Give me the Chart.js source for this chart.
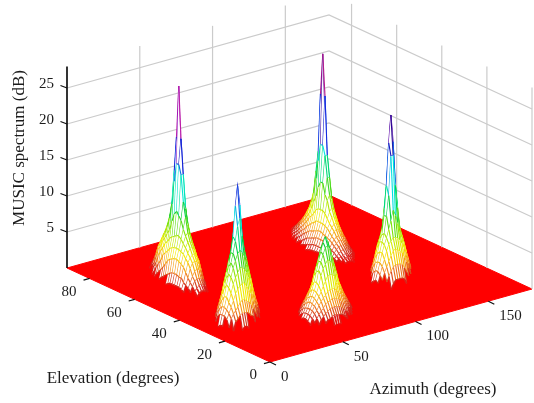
<!DOCTYPE html>
<html>
<head>
<meta charset="utf-8">
<title>MUSIC spectrum</title>
<script src="https://cdn.jsdelivr.net/npm/chart.js@4"></script>
<style>
  html, body { margin: 0; padding: 0; background: #fff; }
  canvas { display: block; }
</style>
</head>
<body>
<canvas id="chart" width="534" height="403"></canvas>
<script>
// Tick labels
const azimuthTicks = [0, 50, 100, 150];
const elevationTicks = [0, 20, 40, 60, 80];
const dbTicks = [5, 10, 15, 20, 25];

// Where the five peaks sit
const peakAz = [36.5, 25, 130, 128, 67.5];
const peakEl = [64, 30.5, 60.5, 29, 19];

// Foot of each peak as it looks on the floor: long and short half width in px, tilt in degrees
const footLong = [32, 23, 36, 22, 28];
const footShort = [11, 11, 13, 10, 12];
const footTilt = [25, -6, 25, -5, -4];

// Height of each peak going out from its centre to its foot, one entry every 2% of the way
const peak1Db = [27, 25.4, 23.8, 21.8, 19.8, 18.5, 17.4, 16.3, 15, 13.7, 12.5, 11.4, 10.4, 9.9, 9.4, 8.9, 8.3, 7.8, 7.4, 7, 6.8, 6.5, 6.3, 6, 5.8, 5.6, 5.4, 5.2, 5, 4.8, 4.5, 4.3, 4.1, 3.9, 3.7, 3.5, 3.2, 2.9, 2.6, 2.3, 2, 1.8, 1.5, 1.3, 1.1, .9, .8, .6, .4, .2, 0];
const peak2Db = [18.6, 18.1, 17.6, 17.2, 16.7, 15.9, 15.1, 14.2, 13.2, 12.4, 11.7, 11.2, 10.7, 10.3, 10, 9.6, 9.3, 9, 8.7, 8.4, 8, 7.8, 7.5, 7.2, 6.9, 6.6, 6.3, 6.1, 5.8, 5.5, 5.2, 4.9, 4.6, 4.3, 4, 3.7, 3.4, 3.2, 2.9, 2.7, 2.5, 2.3, 2.1, 1.9, 1.7, 1.5, 1.35, 1.2, .8, .4, 0];
const peak3Db = [26.7, 25.1, 23.4, 21, 18.5, 15.5, 14.2, 12.9, 11.8, 10.9, 10, 9.2, 8.4, 7.7, 7, 6.6, 6.1, 5.6, 5.3, 5, 4.7, 4.5, 4.2, 4, 3.8, 3.6, 3.4, 3.2, 3, 2.8, 2.7, 2.5, 2.4, 2.2, 2.1, 1.9, 1.8, 1.6, 1.5, 1.3, 1.2, 1.1, .9, .8, .7, .6, .5, .4, .3, .15, 0];
const peak4Db = [22.9, 22.1, 21.4, 20.6, 19.8, 19.1, 18.5, 18, 17.4, 16, 14.5, 13.2, 12, 11.4, 10.8, 10, 9.2, 8.6, 8, 7.5, 7.2, 6.9, 6.6, 6.4, 6.2, 6, 5.8, 5.7, 5.5, 5.2, 5, 4.8, 4.5, 4.2, 4, 3.7, 3.5, 3.2, 3, 2.8, 2.6, 2.3, 2.1, 1.9, 1.7, 1.5, 1.2, 1, .7, .3, 0];
const peak5Db = [10.8, 10.6, 10.4, 10.2, 10.1, 9.9, 9.7, 9.5, 9.2, 8.9, 8.6, 8.3, 8, 7.7, 7.4, 7.1, 6.9, 6.6, 6.3, 6, 5.7, 5.3, 5, 4.7, 4.4, 4.2, 4, 3.8, 3.6, 3.4, 3.3, 3.1, 2.9, 2.8, 2.6, 2.4, 2.3, 2.1, 2, 1.8, 1.7, 1.5, 1.4, 1.2, 1.1, .9, .8, .6, .4, .2, 0];
const peakDb = [peak1Db, peak2Db, peak3Db, peak4Db, peak5Db];

// Box limits and mesh spacing
const azLimit = 180, elLimit = 90, dbLimit = 28;
const azStep = 1.5, elStep = 1;

// Fixed view of the box, orthographic like the original plot
function project(az, el, db) {
    return {
        x: 270 + az * 262 / 180 - el * 203 / 90,
        y: 362 - az * 73 / 180 - el * 94 / 90 - db * 7.2
    };
}

// hsv style colours by height
const colorStops = [
    [0, 240, 10, 10], [1, 205, 45, 35], [2.5, 245, 140, 25], [4.5, 245, 235, 0], [7, 150, 230, 0], [10, 0, 205, 50],
    [13.5, 0, 235, 225], [17, 20, 40, 225], [20, 30, 0, 140], [22.5, 200, 30, 220], [25, 170, 20, 70]
];

function colorFor(db) {
    for (let i = 1; i < colorStops.length; i++) {
        if (db <= colorStops[i][0]) {
            const a = colorStops[i - 1], b = colorStops[i];
            const t = (db - a[0]) / (b[0] - a[0]);
            const mix = k => Math.round(a[k] + (b[k] - a[k]) * t);
            return `rgb(${mix(1)},${mix(2)},${mix(3)})`;
        }
    }
    const last = colorStops[colorStops.length - 1];
    return `rgb(${last[1]},${last[2]},${last[3]})`;
}

function lineSet(points, color, width) {
    return { data: points, borderColor: color, borderWidth: width, showLine: true, fill: false, pointRadius: 0 };
}

const datasets = [];

// Floor
const floor = [project(0, 0, 0), project(azLimit, 0, 0), project(azLimit, elLimit, 0), project(0, elLimit, 0), project(0, 0, 0)];
datasets.push({ data: floor, showLine: true, fill: 'shape', backgroundColor: '#ff0000', borderColor: '#ff0000', borderWidth: 1, pointRadius: 0 });

// Walls
const gridColor = '#cbcbcb';
dbTicks.forEach(db => {
    datasets.push(lineSet([project(0, elLimit, db), project(azLimit, elLimit, db), project(azLimit, 0, db)], gridColor, 1.2));
});
azimuthTicks.slice(1).forEach(az => {
    datasets.push(lineSet([project(az, elLimit, 0), project(az, elLimit, dbLimit)], gridColor, 1.2));
});
elevationTicks.forEach(el => {
    datasets.push(lineSet([project(azLimit, el, 0), project(azLimit, el, dbLimit)], gridColor, 1.2));
});

// Mesh for one peak: strips from the far side to the near side, white faces with coloured lines
function heightAt(p, az, el) {
    const a = project(az, el, 0), c = project(peakAz[p], peakEl[p], 0);
    const t = footTilt[p] * Math.PI / 180;
    const along = (a.x - c.x) * Math.cos(t) + (a.y - c.y) * Math.sin(t);
    const across = (a.y - c.y) * Math.cos(t) - (a.x - c.x) * Math.sin(t);
    const d = Math.hypot(along / footLong[p], across / footShort[p]);
    if (d > 1) return null;
    return peakDb[p][Math.min(Math.round(d * 50), peakDb[p].length - 1)];
}

function addPeak(p) {
    const nAz = Math.ceil(30 / azStep);
    const nEl = Math.ceil(20 / elStep);
    const rows = [];
    for (let j = nEl; j >= -nEl; j--) {
        const row = [];
        for (let i = -nAz; i <= nAz; i++) {
            const az = peakAz[p] + i * azStep, el = peakEl[p] + j * elStep;
            const db = heightAt(p, az, el);
            if (db === null) { row.push(null); continue; }
            const pt = project(az, el, db);
            pt.db = db;
            row.push(pt);
        }
        rows.push(row);
    }
    for (let r = 0; r < rows.length - 1; r++) {
        const back = rows[r], front = rows[r + 1];
        const both = [];
        back.forEach((pt, i) => { if (pt && front[i]) both.push(i); });
        if (both.length === 0) continue;
        // white faces
        const face = both.map(i => back[i]).concat(both.map(i => front[i]).reverse());
        face.push(face[0]);
        datasets.push({ data: face, showLine: true, fill: 'shape', backgroundColor: '#ffffff', borderWidth: 0, pointRadius: 0 });
        // lines across
        const cols = [];
        both.forEach(i => {
            cols.push(back[i], front[i], { x: back[i].x, y: null });
        });
        datasets.push(meshLine(cols));
        datasets.push(meshLine(front.filter(pt => pt)));
    }
}

function meshLine(points) {
    const level = c => (points[c.p0DataIndex].db + points[c.p1DataIndex].db) / 2;
    return {
        data: points, showLine: true, fill: false, pointRadius: 0, borderWidth: 1.1, spanGaps: false,
        borderColor: '#ff0000',
        segment: {
            borderColor: c => colorFor(level(c)),
            // the foot almost closes up into the red floor
            borderWidth: c => (level(c) < 0.8 ? 1.7 : level(c) < 2 ? 1.2 : 1.1)
        }
    };
}

peakAz.map((az, p) => p)
    .sort((a, b) => project(peakAz[a], peakEl[a], 0).y - project(peakAz[b], peakEl[b], 0).y)
    .forEach(addPeak);

// Axis line and tick marks
datasets.push(lineSet([project(0, elLimit, 0), project(0, elLimit, dbLimit)], '#000000', 1.6));
function tickMark(from, dx, dy) {
    return lineSet([from, { x: from.x + dx, y: from.y + dy }], '#111111', 1.2);
}
dbTicks.forEach(db => datasets.push(tickMark(project(0, elLimit, db), -6.5, -2.5)));
elevationTicks.forEach(el => datasets.push(tickMark(project(0, el, 0), -6, 1.7)));
azimuthTicks.forEach(az => datasets.push(tickMark(project(az, 0, 0), 6, 3)));

// Text goes on last, placed from the same scales as the marks
const axisText = {
    id: 'axisText',
    afterDraw(chart) {
        const { ctx, scales } = chart;
        const px = p => ({ x: scales.x.getPixelForValue(p.x), y: scales.y.getPixelForValue(p.y) });
        ctx.save();
        ctx.fillStyle = '#1c1c1c';
        ctx.textBaseline = 'middle';
        ctx.font = '15px "Liberation Serif"';

        ctx.textAlign = 'right';
        dbTicks.forEach(db => {
            const p = px(project(0, elLimit, db));
            ctx.fillText(String(db), p.x - 13, p.y - 3.5);
        });
        elevationTicks.forEach(el => {
            const p = px(project(0, el, 0));
            ctx.fillText(String(el), p.x - 13, p.y + 13.5);
        });
        ctx.textAlign = 'left';
        azimuthTicks.forEach(az => {
            const p = px(project(az, 0, 0));
            ctx.fillText(String(az), p.x + 11, p.y + 15);
        });

        ctx.textAlign = 'center';
        ctx.font = '17px "Liberation Serif"';
        ctx.fillText('Elevation (degrees)', 113, 379);
        ctx.fillText('Azimuth (degrees)', 433, 390);
        ctx.translate(20, 148);
        ctx.rotate(-Math.PI / 2);
        ctx.fillText('MUSIC spectrum (dB)', 0, 0);
        ctx.restore();
    }
};

new Chart(document.getElementById('chart'), {
    type: 'scatter',
    data: { datasets: datasets.reverse() },
    options: {
        responsive: false,
        animation: false,
        events: [],
        layout: { padding: 0 },
        plugins: { legend: { display: false }, tooltip: { enabled: false } },
        scales: {
            x: { type: 'linear', display: false, min: 0, max: 534 },
            y: { type: 'linear', display: false, min: 0, max: 403, reverse: true }
        }
    },
    plugins: [axisText]
});
</script>
</body>
</html>
